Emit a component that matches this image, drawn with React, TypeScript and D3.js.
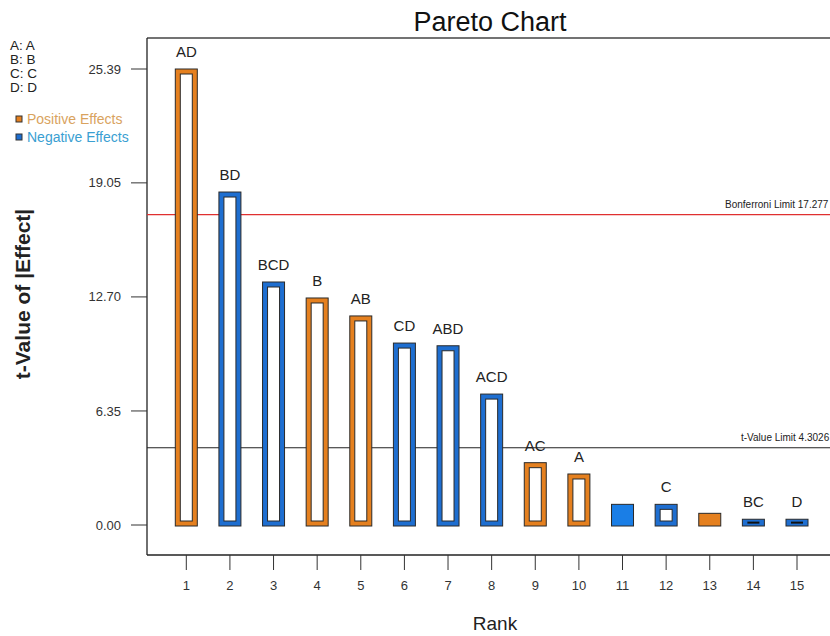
import React from "react";
import * as d3 from "d3";

const ranks = [1, 2, 3, 4, 5, 6, 7, 8, 9, 10, 11, 12, 13, 14, 15];
const terms = ["AD", "BD", "BCD", "B", "AB", "CD", "ABD", "ACD", "AC", "A", "", "C", "", "BC", "D"];
const tValues = [25.39, 18.54, 13.53, 12.64, 11.64, 10.13, 9.98, 7.29, 3.47, 2.84, 1.15, 1.15, 0.65, 0.32, 0.32];
const signs = ["+", "-", "-", "+", "+", "-", "-", "-", "+", "+", "-", "-", "+", "-", "-"];
const hollow = [true, true, true, true, true, true, true, true, true, true, false, true, false, true, true];
const yTicks = [0, 6.35, 12.7, 19.05, 25.39];
const legendFactors = ["A: A", "B: B", "C: C", "D: D"];
const bonferroni = 17.277;
const tLimit = 4.3026;

const W = 830;
const H = 636;
const FONT = "'Liberation Sans', Arial, sans-serif";
const ORANGE = "#E5801F";
const BLUE = "#1E6ED0";
const BLUE_SOLID = "#1A7EE6";
const DARK = "#2a2a2a";

export default function App() {
  const x = d3.scalePoint<number>().domain(ranks).range([186.3, 797]);
  const y = d3.scaleLinear().domain([0, 25.39]).range([525, 69]);
  const left = 147;
  const top = 38;
  const bottom = 555;
  const bw = 22;
  const fmt = d3.format(".2f");

  return (
    <svg width={W} height={H} style={{ position: "absolute", left: 0, top: 0, background: "#fff" }} fontFamily={FONT}>
      <rect x={0} y={0} width={W} height={H} fill="#fff" />
      {/* Title */}
      <text x={490} y={31} textAnchor="middle" fontSize={27} fill="#111">Pareto Chart</text>

      {/* Frame */}
      <line x1={left} x2={W} y1={top} y2={top} stroke="#444" strokeWidth={1.5} />
      <line x1={left} x2={left} y1={top} y2={bottom} stroke="#222" strokeWidth={1.3} />
      <line x1={left} x2={W} y1={bottom} y2={bottom} stroke="#222" strokeWidth={1.3} />

      {/* Y ticks */}
      {yTicks.map((t) => (
        <g key={t}>
          <line x1={left - 16} x2={left} y1={y(t)} y2={y(t)} stroke="#333" strokeWidth={1} />
          <text x={121} y={y(t)} dy="0.35em" textAnchor="end" fontSize={13} fill="#333">{fmt(t)}</text>
        </g>
      ))}

      {/* X ticks */}
      {ranks.map((r) => (
        <g key={r}>
          <line x1={x(r)} x2={x(r)} y1={bottom} y2={bottom + 15} stroke="#333" strokeWidth={1} />
          <text x={x(r)} y={590} textAnchor="middle" fontSize={13} fill="#333">{r}</text>
        </g>
      ))}

      {/* Axis titles */}
      <text x={495} y={630} textAnchor="middle" fontSize={19} fill="#222">Rank</text>
      <text transform={`translate(30,294) rotate(-90)`} textAnchor="middle" fontSize={21} fontWeight="bold" fill="#222">t-Value of |Effect|</text>

      {/* Limit lines */}
      <line x1={left} x2={W} y1={y(bonferroni)} y2={y(bonferroni)} stroke="#E03030" strokeWidth={1.2} />
      <text x={725} y={y(bonferroni) - 7} fontSize={10} fill="#222">Bonferroni Limit 17.277</text>
      <line x1={left} x2={W} y1={y(tLimit)} y2={y(tLimit)} stroke="#222" strokeWidth={1.2} />
      <text x={741} y={y(tLimit) - 7} fontSize={10} fill="#222">t-Value Limit 4.3026</text>

      {/* Bars */}
      {ranks.map((r, i) => {
        const v = tValues[i];
        const cx = x(r) as number;
        const y0 = y(0) + 1;
        const yt = y(v);
        const h = y0 - yt;
        const pos = signs[i] === "+";
        const fill = pos ? ORANGE : hollow[i] ? BLUE : BLUE_SOLID;
        const inset = 5;
        return (
          <g key={r}>
            <rect x={cx - bw / 2} y={yt} width={bw} height={h} fill={fill} stroke={DARK} strokeWidth={1} />
            {hollow[i] && h > 2 * inset + 2 && (
              <rect x={cx - bw / 2 + inset} y={yt + inset} width={bw - 2 * inset} height={h - 2 * inset} fill="#fff" stroke={DARK} strokeWidth={1} />
            )}
            {hollow[i] && h <= 2 * inset + 2 && (
              <line x1={cx - bw / 2 + inset} x2={cx + bw / 2 - inset} y1={yt + h / 2} y2={yt + h / 2} stroke="#111" strokeWidth={2} />
            )}
            {terms[i] && (
              <text x={cx} y={yt - 12} textAnchor="middle" fontSize={15} fill="#222">{terms[i]}</text>
            )}
          </g>
        );
      })}

      {/* Legend */}
      {legendFactors.map((f, i) => (
        <text key={f} x={10} y={50 + i * 14} fontSize={13.5} fill="#222">{f}</text>
      ))}
      <rect x={16} y={116} width={6} height={6} fill={ORANGE} stroke="#333" strokeWidth={1} />
      <text x={27} y={124} fontSize={14} fill="#D9A35E">Positive Effects</text>
      <rect x={16} y={134} width={6} height={6} fill={BLUE} stroke="#333" strokeWidth={1} />
      <text x={27} y={142} fontSize={14} fill="#3AA0D2">Negative Effects</text>
    </svg>
  );
}
